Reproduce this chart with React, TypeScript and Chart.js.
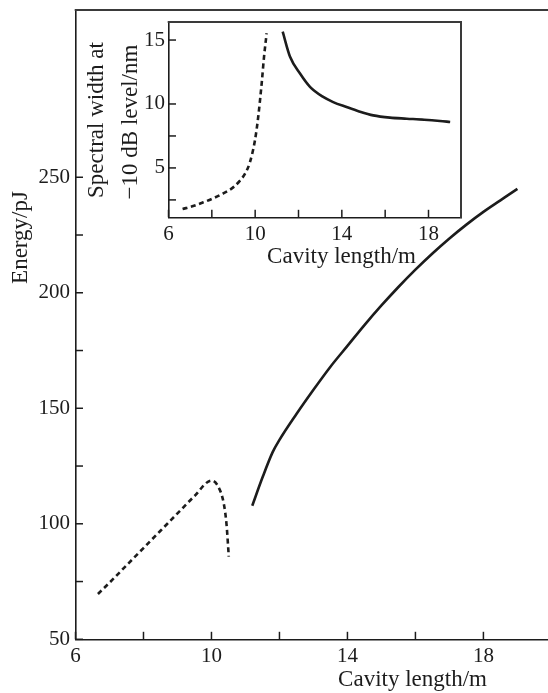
import React, { useEffect, useRef } from 'react';
import { Chart, registerables } from 'chart.js';

Chart.register(...registerables);

// ---------- data ----------
// Main chart: pulse energy vs cavity length
const energyDashedX = [6.66, 7.0, 7.5, 8.0, 8.5, 9.0, 9.5, 10.0, 10.2, 10.36, 10.44, 10.51];
const energyDashedY = [69.6, 74.5, 82, 89.5, 97, 104.5, 112, 118.7, 116.1, 108.9, 100.2, 85.8];
const energySolidX = [11.2, 11.5, 11.8, 12.0, 12.5, 13.0, 13.5, 14.0, 14.5, 15.0, 15.5, 16.0, 16.5, 17.0, 17.5, 18.0, 18.5, 19.0];
const energySolidY = [107.8, 120, 131, 136.3, 147.5, 158, 168, 177, 186, 194.5, 202.5, 210, 217, 223.5, 229.5, 235, 240, 245];

// Inset: spectral width at -10 dB vs cavity length
const widthDashedX = [6.65, 7.1, 7.61, 8.1, 8.53, 9.0, 9.3, 9.55, 9.76, 9.99, 10.14, 10.3, 10.41, 10.53];
const widthDashedY = [1.79, 2.0, 2.31, 2.65, 3.01, 3.5, 4.01, 4.6, 5.45, 7.15, 8.98, 11.6, 13.7, 15.53];
const widthSolidX = [11.27, 11.61, 12.07, 12.53, 13.14, 13.6, 14.22, 14.8, 15.45, 16.22, 17.0, 17.8, 18.53, 19.0];
const widthSolidY = [15.65, 13.69, 12.38, 11.34, 10.55, 10.15, 9.76, 9.42, 9.11, 8.93, 8.85, 8.77, 8.67, 8.59];

// Ticks
const mainXTicks = [6, 8, 10, 12, 14, 16, 18];
const mainXTickLabels = [6, 10, 14, 18];
const mainYTicks = [50, 75, 100, 125, 150, 175, 200, 225, 250];
const mainYTickLabels = [50, 100, 150, 200, 250];
const insetXTicks = [6, 8, 10, 12, 14, 16, 18];
const insetXTickLabels = [6, 10, 14, 18];
const insetYTicks = [2.5, 5, 7.5, 10, 15];
const insetYTickLabels = [5, 10, 15];

// Text
const mainXTitle = 'Cavity length/m';
const mainYTitle = 'Energy/pJ';
const insetXTitle = 'Cavity length/m';
const insetYTitle1 = 'Spectral width at';
const insetYTitle2 = '\u221210 dB level/nm';

// ---------- styling ----------
const FONT = '"Liberation Serif", "Times New Roman", serif';
const INK = '#1c1c1c';
const TICK_SIZE = 21;
const TITLE_SIZE = 23;

const pts = (xs: number[], ys: number[]) => xs.map((x, i) => ({ x, y: ys[i] }));

function lineDataset(xs: number[], ys: number[], dashed: boolean) {
  return {
    data: pts(xs, ys),
    borderColor: INK,
    borderWidth: 2.6,
    borderDash: dashed ? [5, 3.6] : [],
    pointRadius: 0,
    fill: false,
    cubicInterpolationMode: 'monotone' as const,
  };
}

function axis(
  pos: 'bottom' | 'left',
  min: number,
  max: number,
  ticks: number[],
  labels: number[],
  size: number,
  pad: number,
) {
  return {
    type: 'linear' as const,
    position: pos,
    min,
    max,
    afterBuildTicks: (s: any) => {
      s.ticks = ticks.map((v) => ({ value: v }));
    },
    afterFit: (s: any) => {
      if (pos === 'bottom') s.height = size;
      else s.width = size;
      s.paddingLeft = 0;
      s.paddingRight = 0;
      s.paddingTop = 0;
      s.paddingBottom = 0;
    },
    grid: { display: false, drawTicks: false },
    border: { display: true, color: INK, width: 1.6 },
    ticks: {
      padding: pad,
      color: INK,
      autoSkip: false,
      maxRotation: 0,
      minRotation: 0,
      font: { family: FONT, size: TICK_SIZE },
      callback: (v: any) => (labels.includes(Number(v)) ? String(v) : ''),
    },
  };
}

type Title = { text: string; x: number; y: number; rotate?: boolean };

function decor(id: string, titles: Title[], frame: 'top' | 'box') {
  return {
    id,
    afterDraw(chart: any) {
      const { ctx, chartArea: a } = chart;
      ctx.save();
      ctx.strokeStyle = INK;
      ctx.lineWidth = 1.5;
      const tl = 7.5;
      const sx = chart.scales.x;
      for (const t of sx.ticks) {
        const p = sx.getPixelForValue(t.value);
        ctx.beginPath();
        ctx.moveTo(p, a.bottom);
        ctx.lineTo(p, a.bottom - tl);
        ctx.stroke();
      }
      const sy = chart.scales.y;
      for (const t of sy.ticks) {
        const p = sy.getPixelForValue(t.value);
        ctx.beginPath();
        ctx.moveTo(a.left, p);
        ctx.lineTo(a.left + tl, p);
        ctx.stroke();
      }
      ctx.strokeStyle = '#3a3a3a';
      ctx.lineWidth = 2;
      ctx.beginPath();
      ctx.moveTo(a.left - 0.8, a.top);
      ctx.lineTo(a.right, a.top);
      if (frame === 'box') {
        ctx.lineTo(a.right, a.bottom + 0.8);
      }
      ctx.stroke();

      ctx.fillStyle = INK;
      ctx.font = `${TITLE_SIZE}px ${FONT}`;
      ctx.textAlign = 'center';
      ctx.textBaseline = 'alphabetic';
      for (const t of titles) {
        ctx.save();
        ctx.translate(t.x, t.y);
        if (t.rotate) ctx.rotate(-Math.PI / 2);
        ctx.fillText(t.text, 0, 0);
        ctx.restore();
      }
      ctx.restore();
    },
  };
}

function baseOptions(padding: any, scales: any) {
  return {
    responsive: false,
    animation: false as const,
    devicePixelRatio: 1,
    events: [],
    layout: { padding },
    plugins: { legend: { display: false }, tooltip: { enabled: false } },
    scales,
  };
}

export default function App() {
  const mainRef = useRef<HTMLCanvasElement>(null);
  const insetRef = useRef<HTMLCanvasElement>(null);

  useEffect(() => {
    const main = new Chart(mainRef.current as HTMLCanvasElement, {
      type: 'line',
      data: {
        datasets: [
          lineDataset(energyDashedX, energyDashedY, true),
          lineDataset(energySolidX, energySolidY, false),
        ] as any,
      },
      options: baseOptions(
        { top: 10, left: 0, right: 0, bottom: 0 },
        {
          x: axis('bottom', 6, 19.9, mainXTicks, mainXTickLabels, 53.7, 5),
          y: axis('left', 50, 322.4, mainYTicks, mainYTickLabels, 75.5, 5.5),
        },
      ) as any,
      plugins: [
        decor(
          'mainDecor',
          [
            { text: mainXTitle, x: 412.5, y: 686 },
            { text: mainYTitle, x: 27, y: 237.5, rotate: true },
          ],
          'top',
        ),
      ],
    });

    const inset = new Chart(insetRef.current as HTMLCanvasElement, {
      type: 'line',
      data: {
        datasets: [
          lineDataset(widthDashedX, widthDashedY, true),
          lineDataset(widthSolidX, widthSolidY, false),
        ] as any,
      },
      options: baseOptions(
        { top: 22, left: 0, right: 87, bottom: 0 },
        {
          x: axis('bottom', 6, 19.5, insetXTicks, insetXTickLabels, 693 - 217.3, 5),
          y: axis('left', 1.14, 16.41, insetYTicks, insetYTickLabels, 168.5, 3.5),
        },
      ) as any,
      plugins: [
        decor(
          'insetDecor',
          [
            { text: insetXTitle, x: 341.5, y: 263 },
            { text: insetYTitle1, x: 103, y: 120, rotate: true },
            { text: insetYTitle2, x: 137, y: 122, rotate: true },
          ],
          'box',
        ),
      ],
    });

    return () => {
      main.destroy();
      inset.destroy();
    };
  }, []);

  return (
    <div style={{ position: 'absolute', left: 0, top: 0, width: 548, height: 693, background: '#fff' }}>
      <canvas ref={mainRef} width={548} height={693} style={{ position: 'absolute', left: 0, top: 0 }} />
      <canvas ref={insetRef} width={548} height={693} style={{ position: 'absolute', left: 0, top: 0 }} />
    </div>
  );
}
